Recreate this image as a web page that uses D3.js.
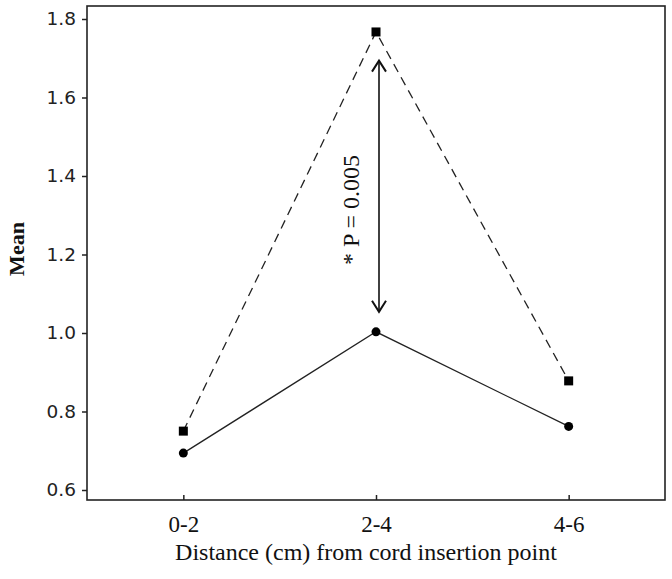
<!DOCTYPE html>
<html><head><meta charset="utf-8">
<script src="https://cdn.jsdelivr.net/npm/d3@7"></script>
<style>body{margin:0;background:#fff}</style>
</head><body>
<svg id="c" width="672" height="579"></svg>
<script>
const categories = ["0-2", "2-4", "4-6"];
const dashedValues = [0.75, 1.767, 0.878];
const solidValues = [0.694, 1.003, 0.762];
const yTicks = [0.6, 0.8, 1.0, 1.2, 1.4, 1.6, 1.8];
const arrowRange = [1.054, 1.694];
const annotation = "* P = 0.005";

const svg = d3.select("#c");
const L = 87, R = 665, T = 6, B = 500;
const x = d3.scalePoint().domain(categories).range([L, R]).padding(0.5);
const y = d3.scaleLinear().domain([0.6, 1.8]).range([490, 19]);

// frame
svg.append("rect").attr("x", L).attr("y", T).attr("width", R - L).attr("height", B - T)
  .attr("fill", "none").attr("stroke", "#222").attr("stroke-width", 1.6);

// y axis
const ya = svg.append("g").attr("transform", `translate(${L},0)`)
  .call(d3.axisLeft(y).tickValues(yTicks).tickFormat(d3.format(".1f")).tickSize(5).tickPadding(6));
ya.select(".domain").remove();
ya.selectAll("line").attr("stroke", "#222").attr("stroke-width", 1.5);
ya.selectAll("text").attr("font-family", "DejaVu Sans").attr("font-size", 18.5).attr("fill", "#222");

// x axis (ticks inward)
const xa = svg.append("g").attr("transform", `translate(0,${B})`)
  .call(d3.axisBottom(x).tickSize(-5).tickPadding(16));
xa.select(".domain").remove();
xa.selectAll("line").attr("stroke", "#222").attr("stroke-width", 1.5);
xa.selectAll("text").attr("font-family", "Liberation Serif").attr("font-size", 23).attr("fill", "#111");

const line = d3.line().x((d, i) => x(categories[i])).y(d => y(d));

svg.append("path").datum(dashedValues).attr("d", line).attr("fill", "none")
  .attr("stroke", "#222").attr("stroke-width", 1.3).attr("stroke-dasharray", "9,6");
svg.append("path").datum(solidValues).attr("d", line).attr("fill", "none")
  .attr("stroke", "#222").attr("stroke-width", 1.3);

svg.selectAll(".sq").data(dashedValues).enter().append("rect")
  .attr("x", (d, i) => x(categories[i]) - 4.5).attr("y", d => y(d) - 4.5)
  .attr("width", 9).attr("height", 9).attr("fill", "#000");
svg.selectAll(".ci").data(solidValues).enter().append("circle")
  .attr("cx", (d, i) => x(categories[i])).attr("cy", d => y(d)).attr("r", 4.5).attr("fill", "#000");

// double arrow
const ax = x("2-4") + 3;
const yTop = y(arrowRange[1]), yBot = y(arrowRange[0]);
const g = svg.append("g").attr("stroke", "#111").attr("stroke-width", 1.6).attr("fill", "none");
g.append("line").attr("x1", ax).attr("x2", ax).attr("y1", yTop).attr("y2", yBot);
g.append("path").attr("d", `M${ax - 7},${yTop + 11} L${ax},${yTop} L${ax + 7},${yTop + 11}`).attr("stroke-width", 2);
g.append("path").attr("d", `M${ax - 7},${yBot - 11} L${ax},${yBot} L${ax + 7},${yBot - 11}`).attr("stroke-width", 2);

svg.append("text").attr("transform", `translate(359,210) rotate(-90)`)
  .attr("text-anchor", "middle").attr("font-family", "Liberation Serif").attr("font-size", 24)
  .attr("fill", "#111").attr("xml:space", "preserve").text(annotation);

// axis titles
svg.append("text").attr("transform", `translate(24,249) rotate(-90)`)
  .attr("text-anchor", "middle").attr("font-family", "Liberation Serif").attr("font-weight", "bold")
  .attr("font-size", 22).attr("fill", "#111").text("Mean");
svg.append("text").attr("x", 366).attr("y", 560).attr("text-anchor", "middle")
  .attr("font-family", "Liberation Serif").attr("font-size", 24).attr("fill", "#111")
  .text("Distance (cm) from cord insertion point");
</script>
</body></html>
